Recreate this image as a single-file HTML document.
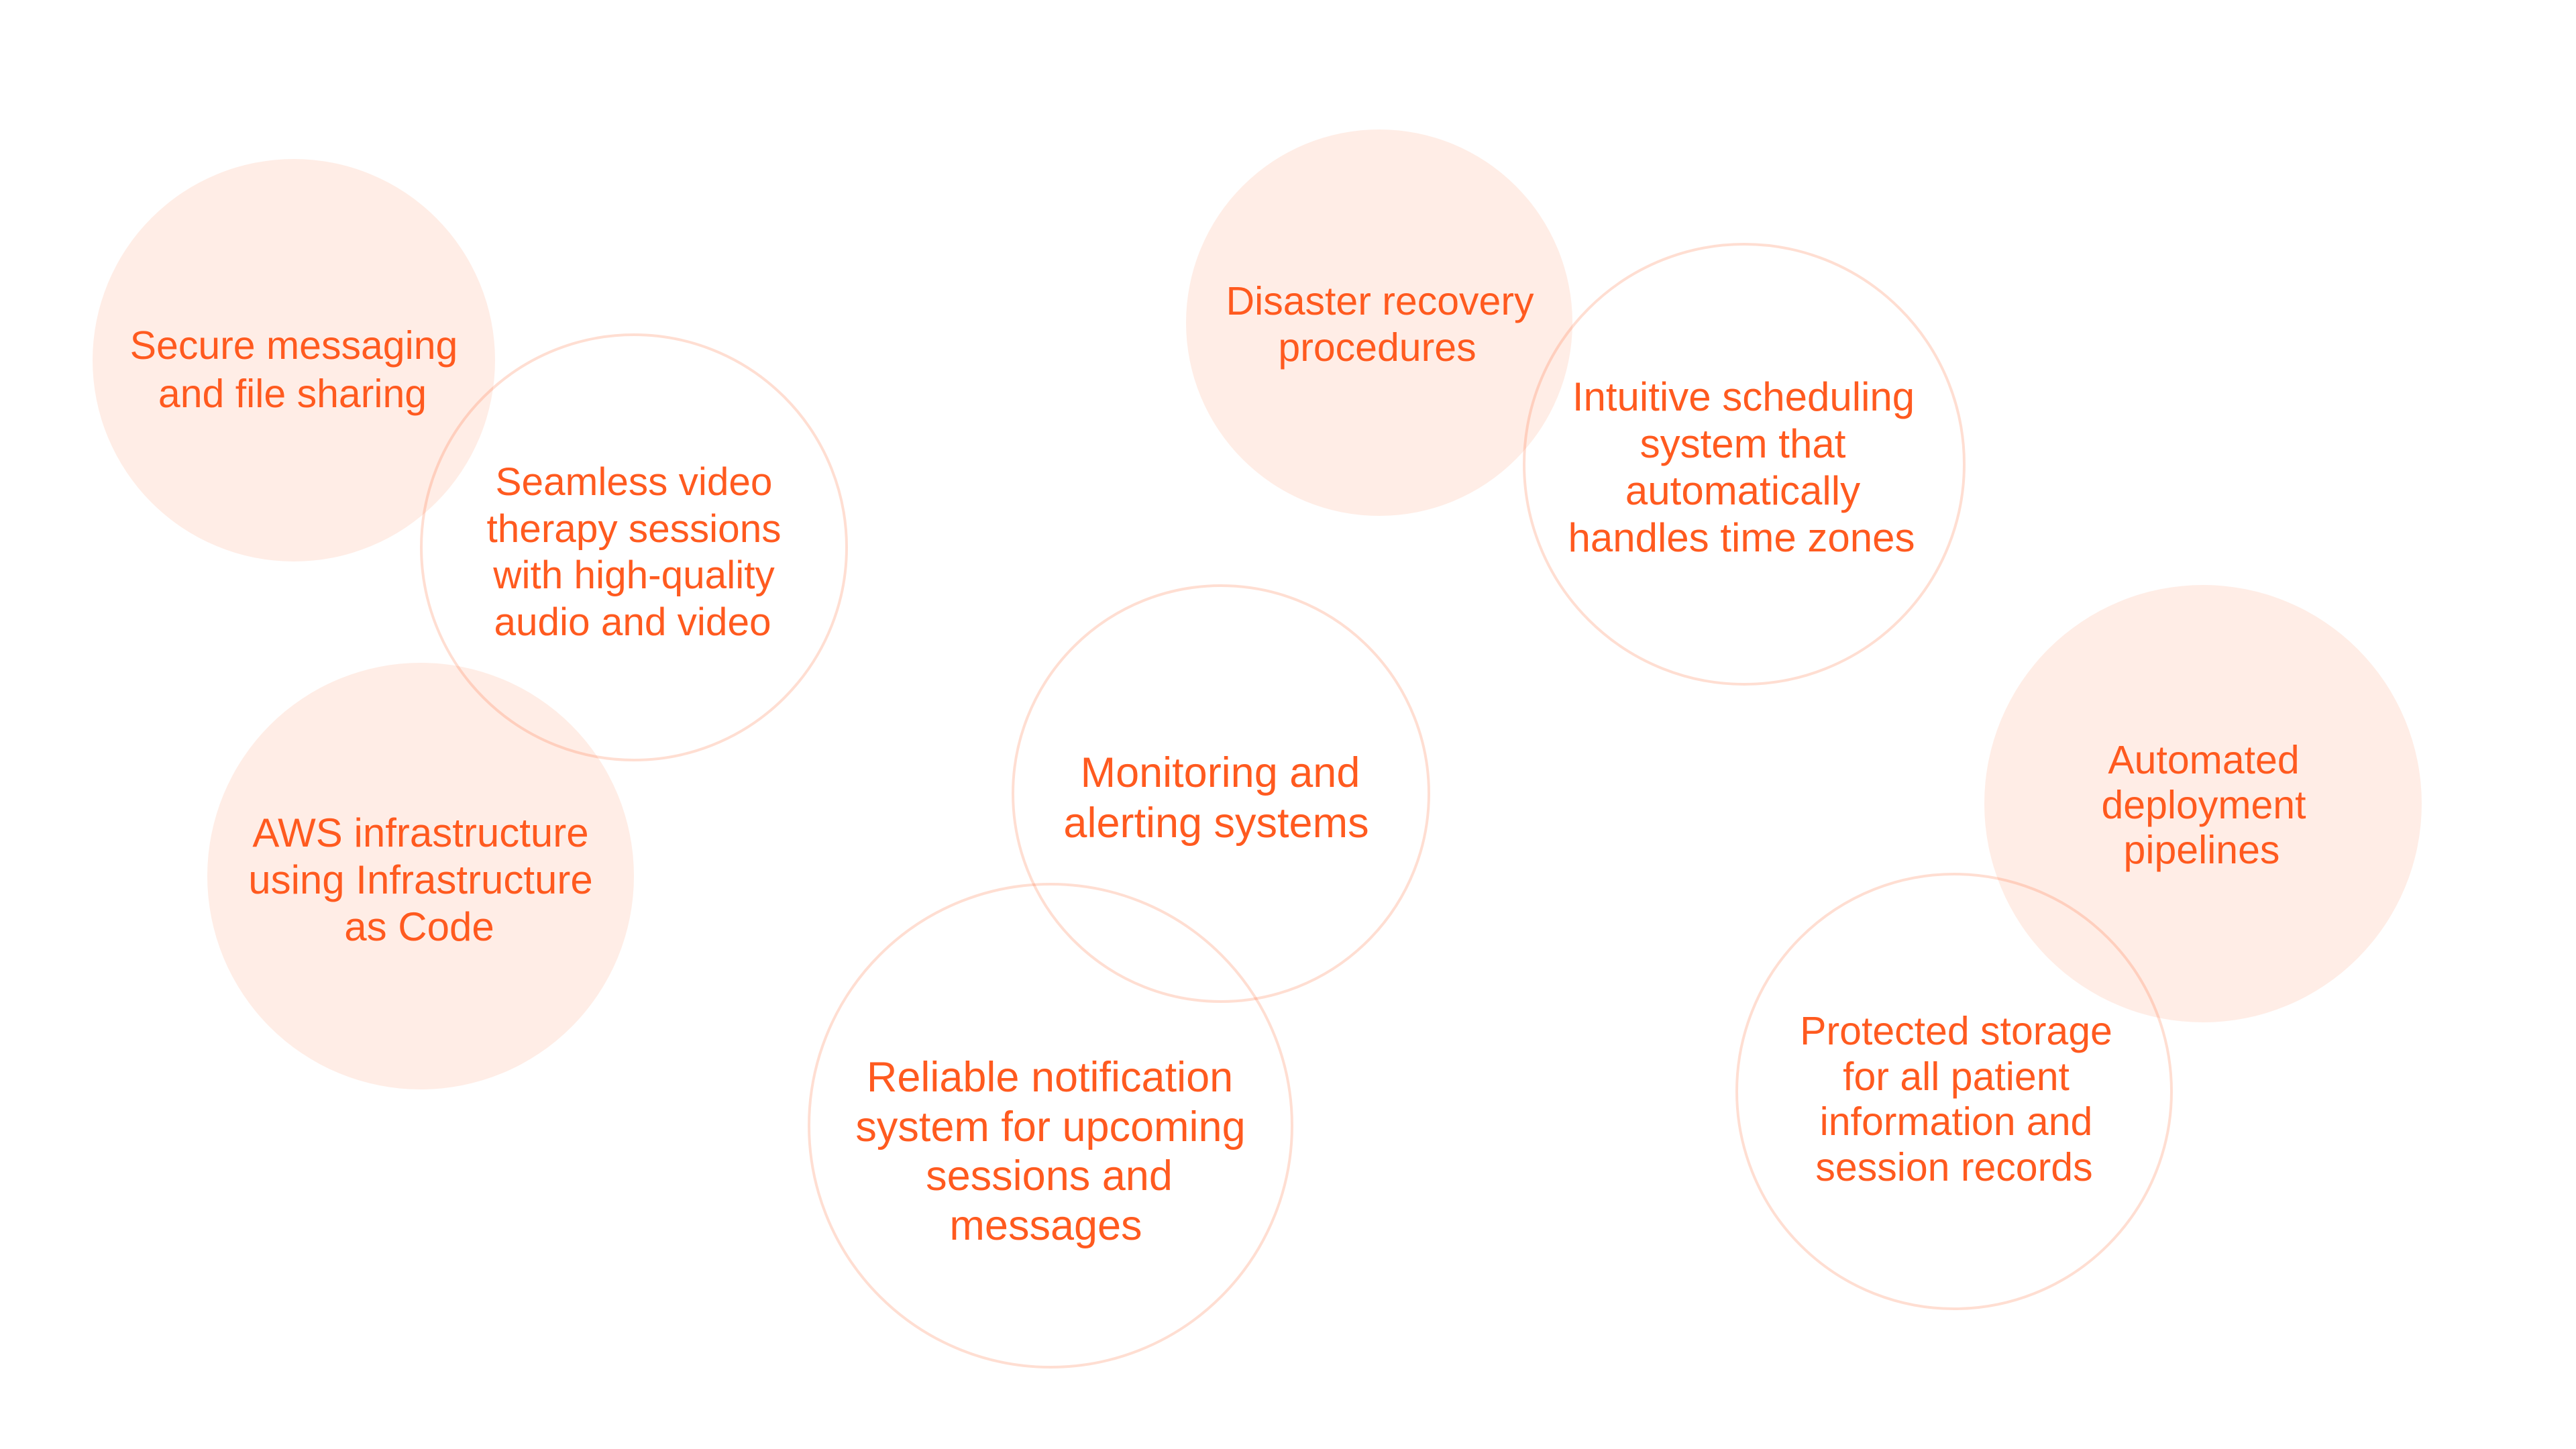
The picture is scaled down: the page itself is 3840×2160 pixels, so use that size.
<!DOCTYPE html>
<html>
<head>
<meta charset="utf-8">
<style>
  html, body { margin: 0; padding: 0; background: #ffffff; }
  body { width: 3840px; height: 2160px; overflow: hidden; }
  svg { display: block; }
  text { font-family: "Liberation Sans", "DejaVu Sans", sans-serif; fill: #FF5A1F; text-anchor: middle; }
</style>
</head>
<body>
<svg width="3840" height="2160" viewBox="0 0 3840 2160" xmlns="http://www.w3.org/2000/svg">
  <rect x="0" y="0" width="3840" height="2160" fill="#ffffff"/>

  <!-- Filled circles -->
  <g fill="rgba(255,90,31,0.11)">
    <circle cx="438" cy="537" r="300"/>
    <circle cx="627" cy="1306" r="318"/>
    <circle cx="2056" cy="481" r="288"/>
    <circle cx="3284" cy="1198" r="326"/>
  </g>

  <!-- Outline circles -->
  <g fill="none" stroke="rgba(255,90,31,0.2)" stroke-width="4">
    <circle cx="945" cy="816" r="317"/>
    <circle cx="2600" cy="692" r="328"/>
    <circle cx="1820" cy="1183" r="310"/>
    <circle cx="1566" cy="1678" r="360"/>
    <circle cx="2913" cy="1627" r="324"/>
  </g>

  <!-- Secure messaging -->
  <g font-size="59">
    <text x="438" y="535">Secure messaging</text>
    <text x="436" y="607">and file sharing</text>
  </g>

  <!-- Seamless video -->
  <g font-size="58.5">
    <text x="945" y="738">Seamless video</text>
    <text x="945" y="808">therapy sessions</text>
    <text x="945" y="877">with high-quality</text>
    <text x="943" y="947">audio and video</text>
  </g>

  <!-- AWS -->
  <g font-size="60">
    <text x="627" y="1262">AWS infrastructure</text>
    <text x="627" y="1332">using Infrastructure</text>
    <text x="625" y="1402">as Code</text>
  </g>

  <!-- Disaster recovery -->
  <g font-size="59">
    <text x="2057" y="469">Disaster recovery</text>
    <text x="2053" y="538">procedures</text>
  </g>

  <!-- Intuitive scheduling -->
  <g font-size="60">
    <text x="2599" y="612">Intuitive scheduling</text>
    <text x="2598" y="682">system that</text>
    <text x="2598" y="752">automatically</text>
    <text x="2596" y="822">handles time zones</text>
  </g>

  <!-- Monitoring -->
  <g font-size="63">
    <text x="1819" y="1173">Monitoring and</text>
    <text x="1813" y="1248">alerting systems</text>
  </g>

  <!-- Reliable notification -->
  <g font-size="63">
    <text x="1565" y="1627">Reliable notification</text>
    <text x="1566" y="1701">system for upcoming</text>
    <text x="1564" y="1774">sessions and</text>
    <text x="1559" y="1848">messages</text>
  </g>

  <!-- Automated deployment -->
  <g font-size="59">
    <text x="3285" y="1153">Automated</text>
    <text x="3285" y="1220">deployment</text>
    <text x="3282" y="1287">pipelines</text>
  </g>

  <!-- Protected storage -->
  <g font-size="59">
    <text x="2916" y="1557">Protected storage</text>
    <text x="2916" y="1625">for all patient</text>
    <text x="2916" y="1692">information and</text>
    <text x="2913" y="1760">session records</text>
  </g>
</svg>
</body>
</html>
